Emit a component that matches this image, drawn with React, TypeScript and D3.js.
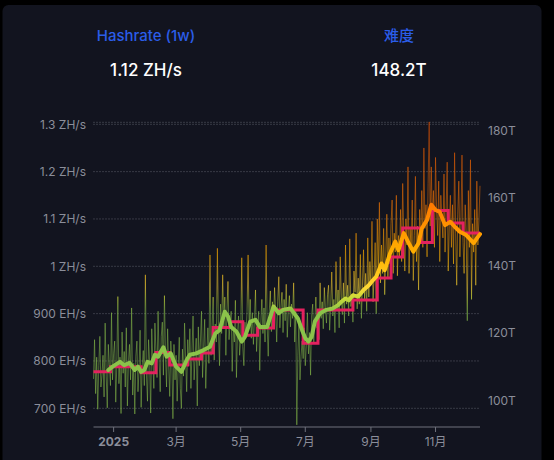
import React from "react";
import * as d3 from "d3";

// ---- data ----
const START_Y = 2024, START_M = 11, START_D = 13; // 2024-12-13
const dayToDate = (d: number) => new Date(START_Y, START_M, START_D + d);

// daily hashrate (EH/s), one value per day from 2024-12-13
const dailyHashrate = [
  762, 845, 731, 808, 698, 790, 852, 745, 770, 812,
  724, 880, 768, 701, 835, 790, 748, 902, 760, 815,
  842, 713, 790, 936, 752, 808, 689, 861, 774, 820,
  745, 870, 705, 798, 835, 760, 912, 728, 795, 688,
  810, 842, 735, 780, 865, 702, 790, 822, 748, 982,
  770, 715, 845, 798, 690, 868, 805, 742, 880, 820,
  765, 905, 800, 735, 852, 882, 770, 938, 810, 745,
  868, 790, 725, 842, 800, 678, 835, 760, 812, 715,
  790, 850, 742, 700, 825, 768, 880, 802, 735, 845,
  790, 868, 742, 820, 895, 760, 810, 848, 705, 872,
  790, 840, 905, 765, 830, 888, 742, 815, 870, 795,
  1024, 812, 870, 935, 802, 878, 840, 1038, 865, 790,
  920, 858, 982, 870, 935, 812, 905, 968, 845, 880,
  905, 778, 872, 840, 928, 765, 860, 895, 812, 848,
  1018, 830, 790, 882, 852, 905, 1024, 870, 930, 848,
  902, 835, 888, 950, 820, 872, 905, 780, 880, 930,
  858, 912, 840, 1045, 875, 810, 905, 948, 862, 925,
  880, 955, 902, 840, 925, 978, 870, 912, 945, 860,
  930, 885, 962, 850, 905, 938, 872, 920, 890, 965,
  840, 905, 665, 812, 880, 760, 810, 842, 805, 870,
  790, 835, 902, 815, 860, 770, 895, 920, 840, 882,
  935, 870, 902, 845, 965, 890, 925, 868, 955, 910,
  880, 940, 960, 865, 915, 988, 895, 930, 860, 1010,
  905, 950, 870, 1020, 935, 898, 965, 880, 1045, 920,
  960, 895, 1058, 915, 935, 882, 990, 945, 1070, 910,
  975, 920, 1025, 890, 960, 1035, 930, 985, 905, 1060,
  935, 1010, 960, 1095, 925, 980, 1050, 900, 1100, 990,
  1135, 965, 1045, 985, 1080, 940, 1020, 1110, 975, 1060,
  1005, 1090, 1140, 985, 1070, 1030, 1150, 980, 1065, 1020,
  1120, 1010, 1175, 1060, 990, 1100, 1045, 1210, 985, 1080,
  1035, 1140, 970, 1065, 1190, 1010, 1085, 950, 1120, 1050,
  1160, 1040, 1250, 1080, 1130, 1020, 1175, 1305, 1085, 1210,
  1095, 1160, 1040, 1230, 1120, 1065, 1180, 1010, 1150, 1100,
  1060, 1195, 1030, 1120, 1220, 990, 1085, 1150, 1040, 1130,
  1005, 1240, 1070, 960, 1110, 1180, 1020, 1095, 1235, 1050,
  985, 1130, 1070, 885, 1160, 1040, 1225, 930, 1090, 1030,
  1120, 960, 1180, 1045, 1100, 1170,
];

// 7-day average hashrate (EH/s)
const avgDays = [
  14, 18, 25, 29, 34, 39, 42, 45, 48, 51, 55, 58, 61, 66, 69, 73, 78, 83, 88, 91,
  97, 104, 110, 115, 119, 124, 127, 130, 135, 140, 143, 148, 153, 157, 164, 170, 175, 179, 186, 193,
  197, 200, 203, 206, 209, 214, 220, 226, 231, 234, 238, 241, 245, 250, 255, 260, 264, 267, 272, 275,
  280, 285, 288, 293, 297, 302, 307, 310, 315, 319, 323, 327, 332, 337, 341, 346, 352, 359, 362, 365,
];
const avgValues = [
  781, 788, 798, 791, 796, 781, 788, 777, 781, 798, 795, 813, 809, 829, 809, 816, 788, 777, 802, 813,
  816, 823, 830, 858, 865, 904, 894, 872, 862, 841, 851, 883, 887, 872, 872, 915, 901, 908, 911, 890,
  865, 848, 841, 851, 883, 901, 908, 911, 918, 925, 932, 928, 939, 936, 950, 960, 971, 978, 1006, 992,
  1027, 1052, 1034, 1070, 1052, 1031, 1049, 1080, 1098, 1130, 1119, 1115, 1087, 1094, 1084, 1073, 1066, 1049, 1059, 1068,
];

// difficulty (T), step changes
const diffDays = [0, 16, 45, 59, 72, 89, 102, 113, 129, 141, 155, 170, 198, 212, 245, 268, 281, 292, 309, 320, 335, 349];
const diffValues = [108.5, 110.0, 108.2, 114.2, 110.5, 112.3, 114.1, 121.6, 123.3, 119.3, 121.5, 126.8, 117.0, 126.8, 129.8, 136.3, 142.5, 151.1, 146.8, 156.3, 152.6, 149.6];

const leftTicks = [700, 800, 900, 1000, 1100, 1200, 1300];
const leftTickLabels = ["700 EH/s", "800 EH/s", "900 EH/s", "1 ZH/s", "1.1 ZH/s", "1.2 ZH/s", "1.3 ZH/s"];
const rightTicks = [100, 120, 140, 160, 180];
const rightTickLabels = ["100T", "120T", "140T", "160T", "180T"];
const monthTicks = [new Date(2025, 0, 1), new Date(2025, 2, 1), new Date(2025, 4, 1), new Date(2025, 6, 1), new Date(2025, 8, 1), new Date(2025, 10, 1)];
const monthLabels = ["2025", "3月", "5月", "7月", "9月", "11月"];

const headerTitles = ["Hashrate (1w)", "难度"];
const headerValues = ["1.12 ZH/s", "148.2T"];

export default function App() {
  const W = 554, H = 460;
  const x = d3.scaleTime().domain([dayToDate(0), dayToDate(365)]).range([93.5, 480]);
  const yL = d3.scaleLinear().domain([700, 1300]).range([408.3, 124.3]);
  const yR = d3.scaleLinear().domain([100, 180]).range([400.5, 130.5]);
  const axisY = 427;
  const font = "Inter, 'Noto Sans CJK SC', sans-serif";

  const dailyLine = d3.line<number>()
    .x((_, i) => x(dayToDate(i)))
    .y((v) => yL(v))(dailyHashrate) || "";

  const avgLine = d3.line<number>()
    .x((_, i) => x(dayToDate(avgDays[i])))
    .y((v) => yL(v))(avgValues) || "";

  const stepData = diffDays.map((d, i) => ({ d, v: diffValues[i] }));
  stepData.push({ d: 365, v: diffValues[diffValues.length - 1] });
  const diffLine = d3.line<{ d: number; v: number }>()
    .curve(d3.curveStepAfter)
    .x((p) => x(dayToDate(p.d)))
    .y((p) => yR(p.v))(stepData) || "";

  const stops: [number, string][] = [
    [700, "#8bc34a"],
    [905, "#8bc34a"],
    [935, "#cddc39"],
    [955, "#fdd835"],
    [1020, "#ffb300"],
    [1075, "#ff9800"],
    [1130, "#ff7a00"],
    [1300, "#e65100"],
  ];

  const [x0, x1] = x.range();
  const headerX = [146, 399];

  return (
    <div style={{ position: "fixed", left: 0, top: 0, width: W, height: H, background: "#000" }}>
      <svg width={W} height={H} style={{ display: "block" }}>
        <defs>
          <linearGradient id="hg" gradientUnits="userSpaceOnUse" x1={0} x2={0} y1={yL(700)} y2={yL(1300)}>
            {stops.map(([v, c], i) => (
              <stop key={i} offset={(v - 700) / 600} stopColor={c} />
            ))}
          </linearGradient>
        </defs>
        <rect x={2.5} y={5} width={539} height={480} rx={6} fill="#12141f" />

        {headerTitles.map((t, i) => (
          <g key={t} fontFamily={font} textAnchor="middle">
            <text x={headerX[i]} y={41} fontSize={15} fontWeight={500} fill="#2b5de8">{t}</text>
            <text x={headerX[i]} y={76} fontSize={17} fontWeight={500} fill="#ffffff">{headerValues[i]}</text>
          </g>
        ))}

        {/* grid */}
        <line x1={x0} x2={x1} y1={122.3} y2={122.3} stroke="#5c5f6b" strokeDasharray="1,2" />
        {leftTicks.map((t) => (
          <line key={t} x1={x0} x2={x1} y1={yL(t)} y2={yL(t)} stroke="#5c5f6b" strokeDasharray="1,2" />
        ))}

        {/* left axis labels */}
        {leftTicks.map((t, i) => (
          <text key={t} x={86} y={yL(t)} dy="0.35em" textAnchor="end" fontFamily={font} fontSize={12} fill="#8b8e9a">
            {leftTickLabels[i]}
          </text>
        ))}
        {/* right axis labels */}
        {rightTicks.map((t, i) => (
          <text key={t} x={488} y={yR(t)} dy="0.35em" textAnchor="start" fontFamily={font} fontSize={12} fill="#8b8e9a">
            {rightTickLabels[i]}
          </text>
        ))}

        {/* x axis */}
        <line x1={x0} x2={x1} y1={axisY} y2={axisY} stroke="#6e717c" />
        {monthTicks.map((d, i) => (
          <g key={i}>
            <line x1={x(d)} x2={x(d)} y1={axisY} y2={axisY + 5} stroke="#6e717c" />
            <text x={x(d)} y={446} textAnchor="middle" fontFamily={font} fontSize={12}
              fontWeight={i === 0 ? 700 : 400} fill="#8b8e9a">{monthLabels[i]}</text>
          </g>
        ))}

        {/* series */}
        <path d={dailyLine} fill="none" stroke="url(#hg)" strokeWidth={1} strokeOpacity={0.5} />
        <path d={diffLine} fill="none" stroke="#e3215f" strokeWidth={3} />
        <path d={avgLine} fill="none" stroke="url(#hg)" strokeWidth={4} strokeLinejoin="round" strokeLinecap="round" />
      </svg>
    </div>
  );
}
